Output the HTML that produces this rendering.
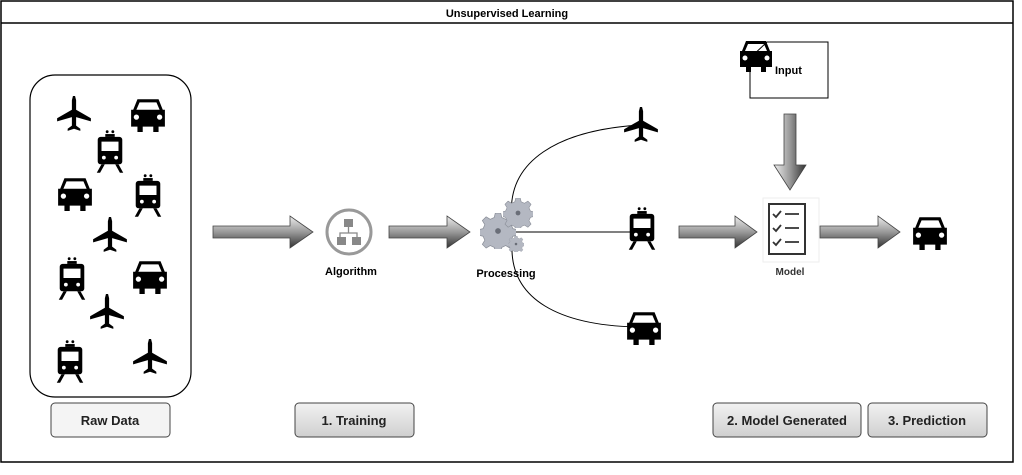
<!DOCTYPE html>
<html><head><meta charset="utf-8"><style>
body{margin:0;background:#fff;width:1022px;height:475px;overflow:hidden}
svg{display:block}
text{font-family:"Liberation Sans",Arial,sans-serif;font-weight:bold}
</style></head><body>
<svg width="1022" height="475" viewBox="0 0 1022 475" xmlns="http://www.w3.org/2000/svg">
<defs>
<linearGradient id="ag" x1="0" y1="0" x2="0" y2="1"><stop offset="0" stop-color="#eee"/><stop offset="0.5" stop-color="#999"/><stop offset="1" stop-color="#333"/></linearGradient>
<linearGradient id="agv" x1="0" y1="0" x2="1" y2="0"><stop offset="0" stop-color="#eee"/><stop offset="0.5" stop-color="#999"/><stop offset="1" stop-color="#333"/></linearGradient>
<linearGradient id="bg" x1="0" y1="0" x2="0" y2="1"><stop offset="0" stop-color="#f2f2f2"/><stop offset="1" stop-color="#cfcfcf"/></linearGradient>
<symbol id="plane" viewBox="0 0 36 36"><path d="M17 1h2l1 4v9l14 8v3l-14-4v8l4 3v2l-6-2-6 2v-2l4-3v-8l-14 4v-3l14-8v-9z" fill="#000"/></symbol>
<symbol id="car" viewBox="0 0 36 36"><path d="M8 4h20l4 10h2v16h-6v5h-5v-5h-10v5h-5v-5h-6v-16h2zM10 7l-3 7h22l-3-7z" fill="#000" fill-rule="evenodd"/><circle cx="7" cy="21" r="2.5" fill="#fff"/><circle cx="29" cy="21" r="2.5" fill="#fff"/></symbol>
<symbol id="train" viewBox="0 0 36 46"><circle cx="15" cy="1.5" r="1.5"/><circle cx="21" cy="1.5" r="1.5"/><rect x="13" y="4" width="10" height="3" fill="#000"/><path d="M8 7h20a3 3 0 0 1 3 3v23a3 3 0 0 1-3 3h-20a3 3 0 0 1-3-3v-23a3 3 0 0 1 3-3zM9 12v10h18v-10z" fill="#000" fill-rule="evenodd"/><circle cx="11.5" cy="29" r="2" fill="#fff"/><circle cx="24.5" cy="29" r="2" fill="#fff"/><path d="M9 36l-5 9h3.5l5-9zM27 36l5 9h-3.5l-5-9z" fill="#000"/></symbol>
<symbol id="gear" viewBox="-10 -10 20 20"><path d="M-1.5-10h3l.6 2.5 2.2 1 2.3-1.4 2.1 2.1-1.4 2.3 1 2.2 2.5.6v3l-2.5.6-1 2.2 1.4 2.3-2.1 2.1-2.3-1.4-2.2 1-.6 2.5h-3l-.6-2.5-2.2-1-2.3 1.4-2.1-2.1 1.4-2.300-1-2.2-2.5-.6v-3l2.5-.6 1-2.2-1.4-2.3 2.1-2.1 2.3 1.4 2.2-1z" fill="#b4b8c2" stroke="#8a8e98" stroke-width=".4"/><circle r="1.6" fill="#6a6e78"/></symbol>
</defs>
<rect x="1" y="1" width="1012" height="461" fill="#fff" stroke="#000" stroke-width="1.5"/>
<line x1="1" y1="23" x2="1013" y2="23" stroke="#000" stroke-width="1.5"/>
<text x="507" y="17" font-size="11" text-anchor="middle">Unsupervised Learning</text>
<rect x="30" y="75" width="161" height="322" rx="25" fill="#fff" stroke="#000" stroke-width="1.2"/>
<use href="#plane" x="55" y="95" width="38" height="38"/>
<use href="#car" x="129" y="95" width="38" height="38"/>
<use href="#train" x="93" y="130" width="34" height="44"/>
<use href="#car" x="56" y="174" width="38" height="38"/>
<use href="#train" x="131" y="174" width="34" height="44"/>
<use href="#plane" x="91" y="215" width="38" height="40"/>
<use href="#train" x="55" y="257" width="34" height="44"/>
<use href="#car" x="131" y="257" width="38" height="38"/>
<use href="#plane" x="88" y="292" width="38" height="40"/>
<use href="#train" x="53" y="340" width="34" height="44"/>
<use href="#plane" x="131" y="337" width="38" height="40"/>
<g stroke="#444" stroke-width=".8">
<path d="M213 226h77v-10l23 16-23 16v-10h-77z" fill="url(#ag)"/>
<path d="M389 226h58v-10l23 16-23 16v-10h-58z" fill="url(#ag)"/>
<path d="M679 226h56v-10l22 16-22 16v-10h-56z" fill="url(#ag)"/>
<path d="M820 226h58v-10l22 16-22 16v-10h-58z" fill="url(#ag)"/>
<path d="M784 114h12v51h10l-16 25-16-25h10z" fill="url(#agv)"/>
</g>
<circle cx="349" cy="232" r="22" fill="#fff" stroke="#999" stroke-width="3"/>
<rect x="344" y="219" width="9" height="8" fill="#888"/><rect x="337" y="237" width="9" height="8" fill="#888"/><rect x="352" y="237" width="9" height="8" fill="#888"/>
<path d="M348.5 227v6M340 237v-4h17v4" stroke="#888" fill="none" stroke-width="1.3"/>
<text x="351" y="275" font-size="11" text-anchor="middle">Algorithm</text>
<path d="M512 220C505 160 560 130 640 125" fill="none" stroke="#000" stroke-width="1"/>
<path d="M512 232H638" fill="none" stroke="#000"/>
<path d="M512 245C510 300 560 325 636 327" fill="none" stroke="#000"/>
<use href="#gear" x="480" y="213" width="36" height="36"/>
<use href="#gear" x="503" y="198" width="30" height="30"/>
<use href="#gear" x="508" y="236" width="16" height="16"/>
<text x="506" y="277" font-size="11" text-anchor="middle">Processing</text>
<use href="#plane" x="622" y="106" width="38" height="38"/>
<use href="#train" x="625" y="207" width="34" height="44"/>
<use href="#car" x="625" y="308" width="38" height="38"/>
<path d="M767 42h61v56h-78v-40z" fill="#fff" stroke="#000"/>
<use href="#car" x="737" y="37" width="38" height="36"/>
<text x="775" y="74" font-size="11">Input</text>
<rect x="763" y="198" width="56" height="64" fill="#fff" stroke="#eee"/>
<rect x="769" y="204" width="36" height="50" fill="#fff" stroke="#333" stroke-width="2"/>
<path d="M773 214l3 3 5-6M773 228l3 3 5-6M773 242l3 3 5-6M785 214h14M785 228h14M785 242h14" stroke="#333" stroke-width="1.8" fill="none"/>
<text x="790" y="275" font-size="10" text-anchor="middle" fill="#333">Model</text>
<use href="#car" x="911" y="213" width="38" height="38"/>
<g stroke="#444" stroke-width="1">
<rect x="51" y="403" width="119" height="34" rx="4" fill="#f4f4f4"/>
<rect x="295" y="403" width="119" height="34" rx="4" fill="url(#bg)"/>
<rect x="713" y="403" width="148" height="34" rx="4" fill="url(#bg)"/>
<rect x="868" y="403" width="119" height="34" rx="4" fill="url(#bg)"/>
</g>
<g font-size="13" text-anchor="middle" fill="#222">
<text x="110" y="425">Raw Data</text>
<text x="354" y="425">1. Training</text>
<text x="787" y="425">2. Model Generated</text>
<text x="927" y="425">3. Prediction</text>
</g>
</svg>
</body></html>
